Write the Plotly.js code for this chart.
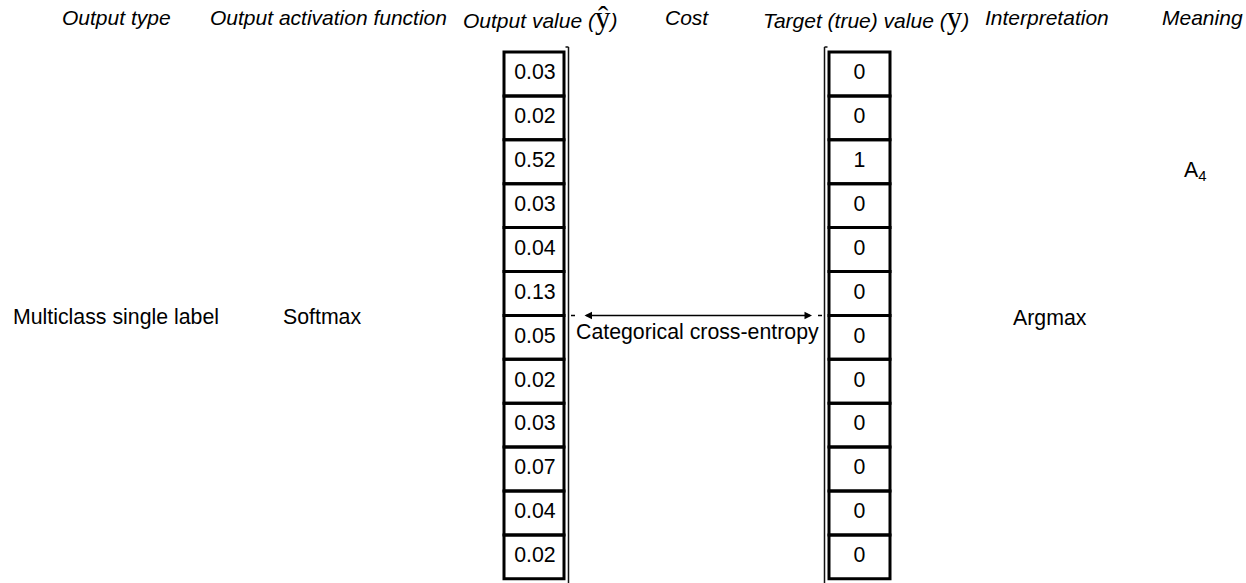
<!DOCTYPE html>
<html>
<head>
<meta charset="utf-8">
<script src="https://cdn.plot.ly/plotly-3.0.1.min.js"></script>
<style>html,body{margin:0;padding:0;background:#fff;}#chart{width:1246px;height:583px;}</style>
</head>
<body>
<div id="chart"></div>
<script>
// ---- data ----
const headers = [
  "Output type",
  "Output activation function",
  "Output value (<span style=\"font-family:'Liberation Serif';font-size:31px;font-style:normal\">ŷ</span>)",
  "Cost",
  "Target (true) value (<span style=\"font-family:'Liberation Serif';font-size:31px;font-style:normal\">y</span>)",
  "Interpretation",
  "Meaning"
];
const outputType = "Multiclass single label";
const activation = "Softmax";
const costName = "Categorical cross-entropy";
const interpretation = "Argmax";
const meaning = "A<sub>4</sub>";
const meaningRow = 2;
const outputValues = [0.03, 0.02, 0.52, 0.03, 0.04, 0.13, 0.05, 0.02, 0.03, 0.07, 0.04, 0.02];
const targetValues = [0, 0, 1, 0, 0, 0, 0, 0, 0, 0, 0, 0];

// ---- layout constants ----
const W = 1246, H = 583;
const top0 = 52, rowH = 43.9;
const yTop = -(top0 + rowH / 2) / rowH;          // row coordinate at pixel 0
const yBot = (H - top0 - rowH / 2) / rowH;       // row coordinate at pixel H
const px2row = p => (p - top0 - rowH / 2) / rowH;
const leftCol = [504, 564], rightCol = [829, 890];
const headerX = [116, 328, 540, 687, 866, 1047, 1202];
const font = "Liberation Sans, Arial, sans-serif";
const bodySize = 21.3;

const rows = outputValues.map((_, i) => i);

const traces = [
  {
    type: 'scatter', mode: 'text', x: rows.map(() => (leftCol[0] + leftCol[1]) / 2 + 1), y: rows,
    text: outputValues.map(v => v.toFixed(2)), textposition: 'middle center',
    textfont: {family: font, size: bodySize, color: '#000'}, hoverinfo: 'skip'
  },
  {
    type: 'scatter', mode: 'text', x: rows.map(() => (rightCol[0] + rightCol[1]) / 2), y: rows,
    text: targetValues.map(v => String(v)), textposition: 'middle center',
    textfont: {family: font, size: bodySize, color: '#000'}, hoverinfo: 'skip'
  }
];

const shapes = [];
rows.forEach(i => {
  [leftCol, rightCol].forEach(c => {
    shapes.push({type: 'rect', xref: 'x', yref: 'y', x0: c[0], x1: c[1], y0: i - 0.5, y1: i + 0.5,
      line: {color: '#000', width: 3}, fillcolor: 'rgba(0,0,0,0)'});
  });
});
// brackets
const bTop = px2row(47), bBot = yBot + 1;
shapes.push({type: 'line', xref: 'x', yref: 'y', x0: 568.5, x1: 568.5, y0: bTop, y1: bBot, line: {color: '#111', width: 1.5}});
shapes.push({type: 'line', xref: 'x', yref: 'y', x0: 565.5, x1: 568.5, y0: bTop, y1: bTop, line: {color: '#111', width: 1.5}});
shapes.push({type: 'line', xref: 'x', yref: 'y', x0: 824.5, x1: 824.5, y0: bTop, y1: bBot, line: {color: '#111', width: 1.5}});
shapes.push({type: 'line', xref: 'x', yref: 'y', x0: 824.5, x1: 827.5, y0: bTop, y1: bTop, line: {color: '#111', width: 1.5}});
// arrow dashes
const arrowY = px2row(315.5);
shapes.push({type: 'line', xref: 'x', yref: 'y', x0: 571, x1: 575, y0: arrowY, y1: arrowY, line: {color: '#000', width: 1.5}});
shapes.push({type: 'line', xref: 'x', yref: 'y', x0: 818, x1: 822, y0: arrowY, y1: arrowY, line: {color: '#000', width: 1.5}});

const annotations = [];
headers.forEach((h, k) => {
  annotations.push({text: h, xref: 'x', yref: 'y', x: headerX[k], y: px2row(17), xanchor: 'center', yanchor: 'middle',
    showarrow: false, font: {family: font, size: 21, color: '#000', style: 'italic'}});
});
annotations.push({text: outputType, xref: 'x', yref: 'y', x: 11, y: px2row(317), xanchor: 'left', yanchor: 'middle', showarrow: false,
  font: {family: font, size: bodySize, color: '#000'}});
annotations.push({text: activation, xref: 'x', yref: 'y', x: 281, y: px2row(317), xanchor: 'left', yanchor: 'middle', showarrow: false,
  font: {family: font, size: bodySize, color: '#000'}});
annotations.push({text: interpretation, xref: 'x', yref: 'y', x: 1011, y: px2row(318), xanchor: 'left', yanchor: 'middle', showarrow: false,
  font: {family: font, size: bodySize, color: '#000'}});
annotations.push({text: meaning, xref: 'x', yref: 'y', x: 1182, y: meaningRow + 0.2, xanchor: 'left', yanchor: 'middle', showarrow: false,
  font: {family: font, size: bodySize, color: '#000'}});
annotations.push({text: costName, xref: 'x', yref: 'y', x: 697, y: px2row(332), xanchor: 'center', yanchor: 'middle', showarrow: false,
  font: {family: font, size: bodySize, color: '#000'}});
// double-headed arrow
annotations.push({text: '', xref: 'x', yref: 'y', axref: 'x', ayref: 'y', x: 812, y: arrowY, ax: 583, ay: arrowY,
  showarrow: true, arrowhead: 2, startarrowhead: 2, arrowside: 'end+start', arrowsize: 1, startarrowsize: 1, arrowwidth: 1.5, arrowcolor: '#000'});

const layout = {
  width: W, height: H, margin: {l: 0, r: 0, t: 0, b: 0},
  paper_bgcolor: '#fff', plot_bgcolor: '#fff', showlegend: false,
  xaxis: {range: [0, W], visible: false, fixedrange: true},
  yaxis: {range: [yBot, yTop], visible: false, fixedrange: true},
  shapes: shapes, annotations: annotations
};
Plotly.newPlot('chart', traces, layout, {staticPlot: true, displayModeBar: false});
</script>
</body>
</html>
